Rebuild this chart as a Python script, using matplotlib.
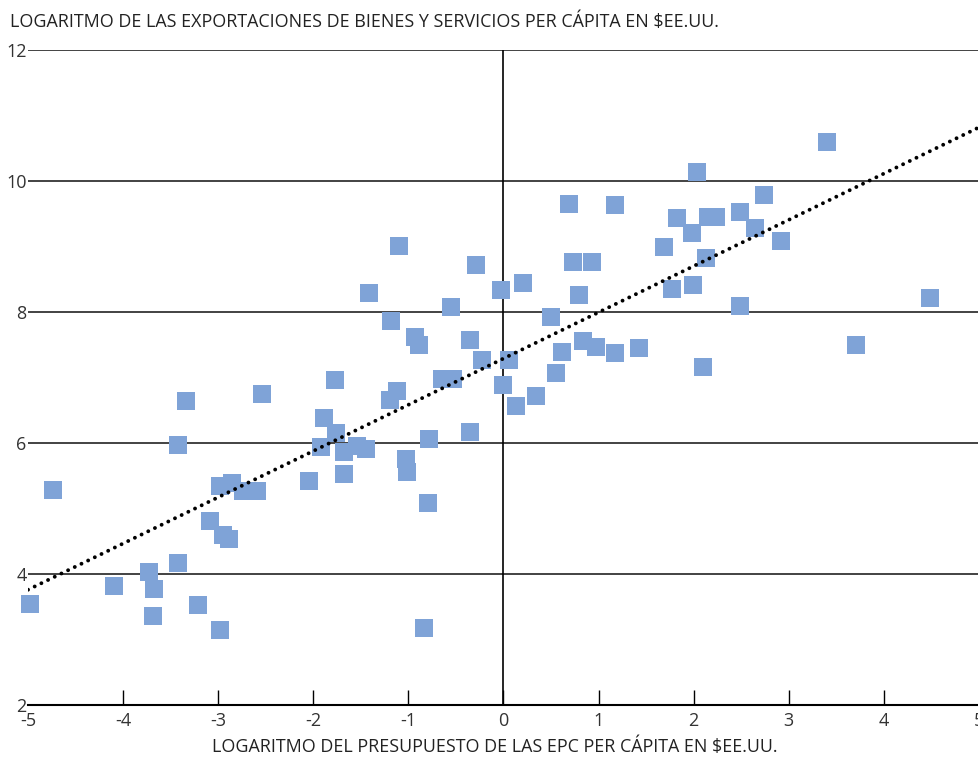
import matplotlib
matplotlib.use("Agg")
import matplotlib.pyplot as plt
import numpy as np

plt.rcParams['font.family'] = ['Open Sans', 'DejaVu Sans']

# log EPC budget per capita (x) vs log exports of goods & services per capita (y)
presupuesto = [-4.98, -4.74, -4.10, -3.73, -3.68, -3.69, -3.42, -3.42, -3.34, -3.21,
               -3.09, -2.98, -2.95, -2.89, -2.98, -2.85, -2.74, -2.59, -2.54, -2.04,
               -1.92, -1.89, -1.77, -1.76, -1.68, -1.68, -1.54, -1.45, -1.41, -1.19,
               -1.18, -1.12, -1.10, -1.03, -1.01, -0.93, -0.89, -0.84, -0.79, -0.78,
               -0.65, -0.53, -0.55, -0.35, -0.35, -0.29, -0.23, -0.03, -0.01, 0.06,
               0.13, 0.21, 0.34, 0.50, 0.55, 0.62, 0.69, 0.73, 0.79, 0.84,
               0.93, 0.97, 1.17, 1.17, 1.42, 1.69, 1.77, 1.82, 1.98, 1.99,
               2.03, 2.13, 2.10, 2.15, 2.23, 2.49, 2.49, 2.64, 2.74, 2.92,
               3.40, 3.71, 4.48]
exportaciones = [3.54, 5.28, 3.82, 4.03, 3.77, 3.36, 4.17, 5.97, 6.64, 3.53,
                 4.81, 5.35, 4.59, 4.53, 3.15, 5.39, 5.26, 5.27, 6.75, 5.42,
                 5.94, 6.38, 6.96, 6.15, 5.87, 5.53, 5.95, 5.91, 8.29, 6.66,
                 7.87, 6.79, 9.01, 5.75, 5.56, 7.62, 7.50, 3.18, 5.09, 6.06,
                 6.98, 6.98, 8.07, 7.57, 6.17, 8.72, 7.27, 8.34, 6.88, 7.26,
                 6.56, 8.45, 6.72, 7.92, 7.07, 7.39, 9.65, 8.76, 8.26, 7.56,
                 8.76, 7.47, 9.63, 7.37, 7.45, 8.99, 8.35, 9.44, 9.21, 8.41,
                 10.14, 8.83, 7.16, 9.45, 9.45, 9.52, 8.09, 9.29, 9.79, 9.08,
                 10.60, 7.50, 8.21]

x_ticks = [-5, -4, -3, -2, -1, 0, 1, 2, 3, 4, 5]
y_ticks = [2, 4, 6, 8, 10, 12]

titulo_y = "LOGARITMO DE LAS EXPORTACIONES DE BIENES Y SERVICIOS PER CÁPITA EN $EE.UU."
titulo_x = "LOGARITMO DEL PRESUPUESTO DE LAS EPC PER CÁPITA EN $EE.UU."

W, H = 979, 757
fig = plt.figure(figsize=(W / 100, H / 100), dpi=100)
ax = fig.add_axes([28 / W, 1 - 705 / H, (979 - 28) / W, (705 - 50) / H])

# horizontal grid lines and the zero line
for yv in y_ticks[1:]:
    ax.axhline(yv, color='#222222', lw=1.2, zorder=1)
ax.axvline(0, color='black', lw=1.2, zorder=1)

ax.scatter(presupuesto, exportaciones, marker='s', s=150, color='#7fa3d7',
           linewidths=0, zorder=3, clip_on=False)

# linear trend line
m, b = np.polyfit(presupuesto, exportaciones, 1)
xs = np.array([-5, 5])
ax.plot(xs, m * xs + b, color='black', lw=2.8, linestyle=(0, (0.01, 1.9)),
        dash_capstyle='round', zorder=4)

ax.set_xlim(-5, 5)
ax.set_ylim(2, 12)
ax.set_xticks(x_ticks)
ax.set_yticks(y_ticks)
ax.set_xticklabels([str(v) for v in x_ticks])
ax.set_yticklabels([str(v) for v in y_ticks])

for s in ['left', 'right', 'top']:
    ax.spines[s].set_visible(False)
ax.spines['bottom'].set_linewidth(1.5)
ax.spines['bottom'].set_color('black')

ax.tick_params(axis='x', direction='in', length=11, width=1, color='black',
               labelsize=13, labelcolor='#333333', pad=5)
ax.tick_params(axis='y', length=0, labelsize=13, labelcolor='#333333', pad=1)
# no tick marks at the two ends
xt = ax.xaxis.get_major_ticks()
xt[0].tick1line.set_visible(False)
xt[-1].tick1line.set_visible(False)
ax.patch.set_visible(False)

fig.text(10 / W, 1 - 22 / H, titulo_y, fontsize=12.9, color='#222222',
         ha='left', va='center')
fig.text(495 / W, 1 - 747 / H, titulo_x, fontsize=12.9, color='#222222',
         ha='center', va='center')

fig.savefig("out.png", dpi=100)
